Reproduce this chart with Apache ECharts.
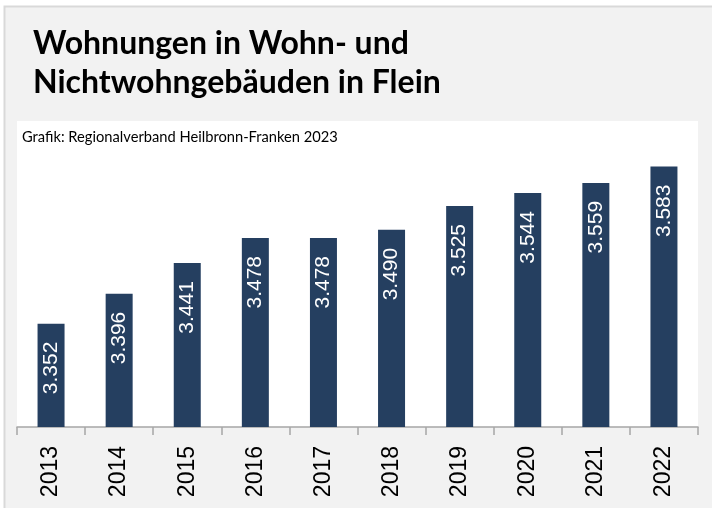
<!DOCTYPE html>
<html>
<head>
<meta charset="utf-8">
<script src="https://cdn.jsdelivr.net/npm/echarts@6/dist/echarts.min.js"></script>
<style>
html,body{margin:0;padding:0;background:#fff;}
#chart{width:712px;height:508px;}
</style>
</head>
<body>
<div id="chart"></div>
<script>
const titleText = 'Wohnungen in Wohn- und\nNichtwohngebäuden in Flein';
const sourceText = 'Grafik: Regionalverband Heilbronn-Franken 2023';
const years = ['2013','2014','2015','2016','2017','2018','2019','2020','2021','2022'];
const values = [3352, 3396, 3441, 3478, 3478, 3490, 3525, 3544, 3559, 3583];

function fmtDE(v){
  const t = Math.floor(v/1000), r = v % 1000;
  return t > 0 ? t + '.' + String(r).padStart(3,'0') : String(r);
}

const chart = echarts.init(document.getElementById('chart'), null, {renderer:'canvas'});
chart.setOption({
  backgroundColor: '#ffffff',
  animation: false,
  graphic: [{
    type: 'rect', z: -10, silent: true,
    shape: {x: 4.5, y: 6.5, width: 720, height: 520},
    style: {fill: '#f2f2f2', stroke: '#d9d9d9', lineWidth: 2}
  }],
  title: [{
    text: titleText,
    left: 28, top: 19,
    textStyle: {fontFamily: 'Lato', fontWeight: 'bold', fontSize: 32, lineHeight: 39, color: '#000'}
  },{
    text: sourceText,
    left: 17, top: 125,
    textStyle: {fontFamily: 'Lato', fontWeight: 'normal', fontSize: 14.7, color: '#000'}
  }],
  grid: {
    left: 17, top: 121, width: 681, height: 306,
    show: true, backgroundColor: '#ffffff', borderWidth: 0, containLabel: false
  },
  xAxis: {
    type: 'category',
    data: years,
    axisLine: {show: true, lineStyle: {color: '#a6a6a6', width: 1.5}},
    axisTick: {show: true, length: 8, lineStyle: {color: '#a6a6a6', width: 1.5}},
    axisLabel: {rotate: 90, margin: 19, fontSize: 23, color: '#000', fontFamily: '"Liberation Sans", Arial, sans-serif'}
  },
  yAxis: {
    type: 'value', min: 3200, max: 3650,
    show: false, splitLine: {show: false}
  },
  series: [{
    type: 'bar',
    data: values,
    barWidth: 27,
    itemStyle: {color: '#253f60'},
    label: {
      show: true, position: 'insideTop', distance: 18, rotate: 90,
      align: 'right', verticalAlign: 'middle',
      formatter: p => fmtDE(p.value),
      color: '#ffffff', fontSize: 21, fontFamily: '"Liberation Sans", Arial, sans-serif'
    }
  }]
});
</script>
</body>
</html>
